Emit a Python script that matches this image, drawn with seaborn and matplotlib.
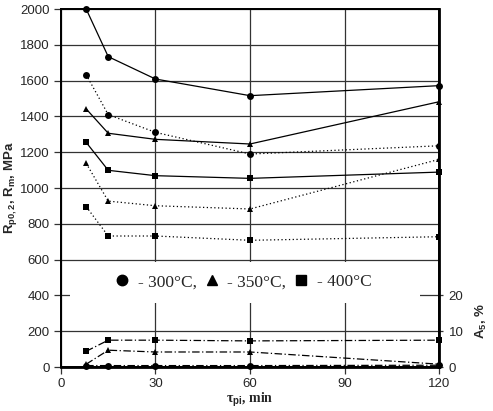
import pandas as pd
import matplotlib
matplotlib.use("Agg")
import matplotlib.pyplot as plt
import seaborn as sns
from matplotlib.patches import Rectangle
from matplotlib.lines import Line2D

# Data
time_min = [8, 15, 30, 60, 120]

rm_300 = [2000, 1734, 1609, 1516, 1572]
rm_350 = [1442, 1306, 1272, 1246, 1482]
rm_400 = [1255, 1099, 1069, 1054, 1089]

rp_300 = [1633, 1410, 1311, 1190, 1236]
rp_350 = [1138, 927, 901, 883, 1160]
rp_400 = [896, 732, 732, 708, 728]

a5_300 = [0.4, 0.4, 0.4, 0.4, 0.5]
a5_350 = [0.8, 4.7, 4.2, 4.2, 0.8]
a5_400 = [4.4, 7.5, 7.5, 7.3, 7.5]

temps = ['300°C', '350°C', '400°C']
markers = ['o', '^', 's']

sns.set_style("white")
plt.rcParams['font.family'] = ['Liberation Sans', 'DejaVu Sans']
plt.rcParams['mathtext.fontset'] = 'custom'
plt.rcParams['mathtext.rm'] = 'Liberation Sans:bold'
plt.rcParams['mathtext.bf'] = 'Liberation Sans:bold'
plt.rcParams['mathtext.it'] = 'Liberation Sans:bold'

fig = plt.figure(figsize=(4.93, 4.11), dpi=100)
ax = fig.add_axes([0.1237, 0.107, 0.7668, 0.871])
ax2 = ax.twinx()

# strength curves (left axis)
for vals, m in zip([rm_300, rm_350, rm_400], markers):
    sns.lineplot(x=time_min, y=vals, ax=ax, color='black', linestyle='-',
                 linewidth=0.9, marker=m, markersize=5, markeredgewidth=0,
                 clip_on=False, zorder=4)
for vals, m in zip([rp_300, rp_350, rp_400], markers):
    sns.lineplot(x=time_min, y=vals, ax=ax, color='black', linestyle=(0, (1, 2)),
                 linewidth=0.9, marker=m, markersize=5, markeredgewidth=0, zorder=4)

# elongation (right axis)
for vals, m in zip([a5_300, a5_350, a5_400], markers):
    sns.lineplot(x=time_min, y=vals, ax=ax2, color='black', linestyle=(0, (6, 2, 1, 2)),
                 linewidth=0.9, marker=m, markersize=5, markeredgewidth=0,
                 clip_on=False, zorder=4)

ax.set_xlim(0, 120)
ax.set_ylim(0, 2000)
ax.set_xticks([0, 30, 60, 90, 120])
ax.set_yticks(range(0, 2001, 200))
ax2.set_ylim(0, 100)
ax2.set_yticks([0, 10, 20])

ax.grid(True, color='#333333', linewidth=0.9)
ax.set_axisbelow(True)

# white box behind the legend hides the grid there
ax.add_patch(Rectangle((0.024, 0.179), 0.926, 0.114, transform=ax.transAxes,
                       facecolor='white', edgecolor='none', zorder=1.5))

for a in (ax, ax2):
    for s in a.spines.values():
        s.set_color('black')
        s.set_linewidth(1.3)
ax2.spines['right'].set_linewidth(2)
ax.spines['bottom'].set_linewidth(2)

ax.tick_params(axis='both', direction='out', length=5, width=0.9, color='#333333',
               labelsize=9.5, pad=3, left=True, bottom=True)
ax2.tick_params(axis='y', direction='out', length=3, width=0.9, color='#333333',
                labelsize=9.5, pad=4, right=True)

ax.set_ylabel(r'R$_{p0,2}$, R$_m$, MPa', fontsize=9.5, fontweight='bold')
ax.yaxis.set_label_coords(-0.112, 0.5)
ax2.set_ylabel(r'A$_5$, %', fontsize=9.5, fontweight='bold')
ax2.yaxis.set_label_coords(1.092, 0.13)
ax.set_xlabel(r'τ$_{pi}$, min', fontsize=10, fontweight='bold',
              family=['Liberation Serif', 'DejaVu Serif'])
ax.xaxis.set_label_coords(0.5, -0.066)

handles = [Line2D([], [], color='black', marker=m, linestyle='none', markersize=7.5)
           for m in markers]
labels = ['- ' + temps[0] + ',', '- ' + temps[1] + ',', '- ' + temps[2]]
ax.legend(handles, labels, ncol=3, loc='center', bbox_to_anchor=(0.483, 0.237),
          frameon=False, handlelength=0.8, handletextpad=0.5, columnspacing=0.45,
          prop={'family': ['Liberation Serif', 'DejaVu Serif'], 'size': 12.5})

fig.savefig('out.png', dpi=100)
